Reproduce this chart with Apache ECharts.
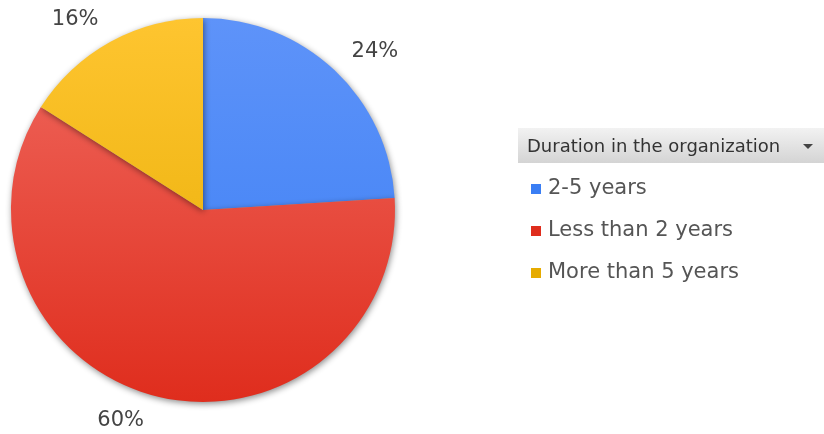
<!DOCTYPE html>
<html>
<head>
<meta charset="utf-8">
<script src="https://cdn.jsdelivr.net/npm/echarts@6/dist/echarts.min.js"></script>
<style>
  html, body { margin: 0; padding: 0; background: #fff; }
  #chart { width: 824px; height: 434px; }
</style>
</head>
<body>
<div id="chart"></div>
<script>
// Share of respondents by time spent in the organization (%)
const categories = ['2-5 years', 'Less than 2 years', 'More than 5 years'];
const shares = [24, 60, 16];
const legendTitle = 'Duration in the organization';

// top / bottom shade for each slice
const topColors = ['#5e93f9', '#f06a60', '#fec530'];
const bottomColors = ['#3a7ef4', '#df2d1d', '#e6ab00'];
// gap between the slice's label anchor and its text
const labelGaps = [0, 5, 0];

const cx = 203, cy = 210, radius = 192;
const FONT = '"DejaVu Sans", Verdana, sans-serif';

const chart = echarts.init(document.getElementById('chart'), null, { renderer: 'canvas' });

const pieData = categories.map((name, i) => ({
  name: name,
  value: shares[i],
  label: { distanceToLabelLine: labelGaps[i] },
  itemStyle: {
    color: new echarts.graphic.LinearGradient(0, cy - radius, 0, cy + radius, [
      { offset: 0, color: topColors[i] },
      { offset: 1, color: bottomColors[i] }
    ], true)
  }
}));

chart.setOption({
  animation: false,
  backgroundColor: '#ffffff',
  color: bottomColors,
  legend: {
    orient: 'vertical',
    left: 526,
    top: 173,
    icon: 'rect',
    itemWidth: 10,
    itemHeight: 10,
    itemGap: 20,
    data: categories.map((name, i) => ({ name: name, itemStyle: { color: bottomColors[i] } })),
    textStyle: {
      fontFamily: FONT,
      fontSize: 21,
      lineHeight: 22,
      color: '#555555',
      padding: [0, 0, 0, 2]
    }
  },
  graphic: [
    {
      type: 'rect',
      shape: { x: 518, y: 128, width: 306, height: 35 },
      style: {
        fill: new echarts.graphic.LinearGradient(0, 0, 0, 1, [
          { offset: 0, color: '#f2f2f2' },
          { offset: 1, color: '#d4d4d4' }
        ])
      },
      silent: true
    },
    {
      type: 'text',
      x: 527,
      y: 147,
      style: {
        text: legendTitle,
        fill: '#333333',
        font: '18px "DejaVu Sans", Verdana, sans-serif',
        verticalAlign: 'middle'
      },
      silent: true
    },
    {
      type: 'polygon',
      shape: { points: [[803, 144], [813, 144], [808, 149]] },
      style: { fill: '#444444' },
      silent: true
    }
  ],
  series: [{
    type: 'pie',
    center: [cx, cy],
    radius: radius,
    startAngle: 90,
    clockwise: true,
    avoidLabelOverlap: false,
    data: pieData,
    itemStyle: {
      shadowBlur: 6,
      shadowColor: 'rgba(0,0,0,0.45)',
      shadowOffsetX: 1,
      shadowOffsetY: 2
    },
    label: {
      show: true,
      position: 'outside',
      formatter: p => p.value + '%',
      fontFamily: FONT,
      fontSize: 21,
      color: '#444444'
    },
    labelLine: { show: false, length: 25, length2: 0 },
    emphasis: { disabled: true }
  }]
});
</script>
</body>
</html>
